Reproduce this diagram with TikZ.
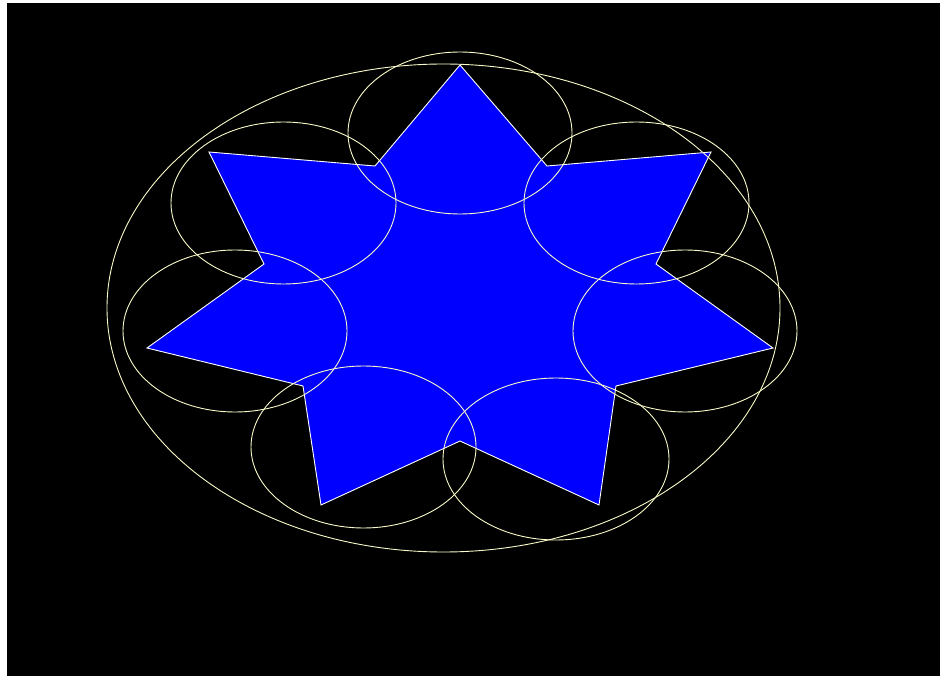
\documentclass[tikz,border=0pt]{standalone}
\definecolor{ringcol}{RGB}{250,250,200}
\definecolor{starblue}{RGB}{0,0,255}
\tikzset{
  ring/.style={draw=ringcol, line width=0.9pt},
  starshape/.style={fill=starblue, draw=white, line width=0.9pt, line join=miter}
}
\begin{document}
\begin{tikzpicture}[x=1pt,y=-1pt]
\useasboundingbox (0,0) rectangle (940,676);
\fill[white] (0,0) rectangle (940,676);
\fill[black] (7,3) rectangle (940,676);
\draw[starshape] (460,65) -- (547,166) -- (711,152) -- (656,264) -- (773,348) -- (616,386) -- (599,505) -- (460,441) -- (321,505) -- (303,386) -- (147,348) -- (264,264) -- (209,152) -- (375,166) -- cycle;
\draw[ring] (443.5,308) ellipse [x radius=336.5, y radius=244];
\draw[ring] (460,133) ellipse [x radius=112, y radius=81];
\draw[ring] (636.5,203) ellipse [x radius=112.5, y radius=81];
\draw[ring] (685,331) ellipse [x radius=112, y radius=81];
\draw[ring] (556,459) ellipse [x radius=113, y radius=81];
\draw[ring] (363.5,447) ellipse [x radius=112.5, y radius=81];
\draw[ring] (235,331) ellipse [x radius=112, y radius=81];
\draw[ring] (283.5,203) ellipse [x radius=112.5, y radius=81];
\end{tikzpicture}
\end{document}
